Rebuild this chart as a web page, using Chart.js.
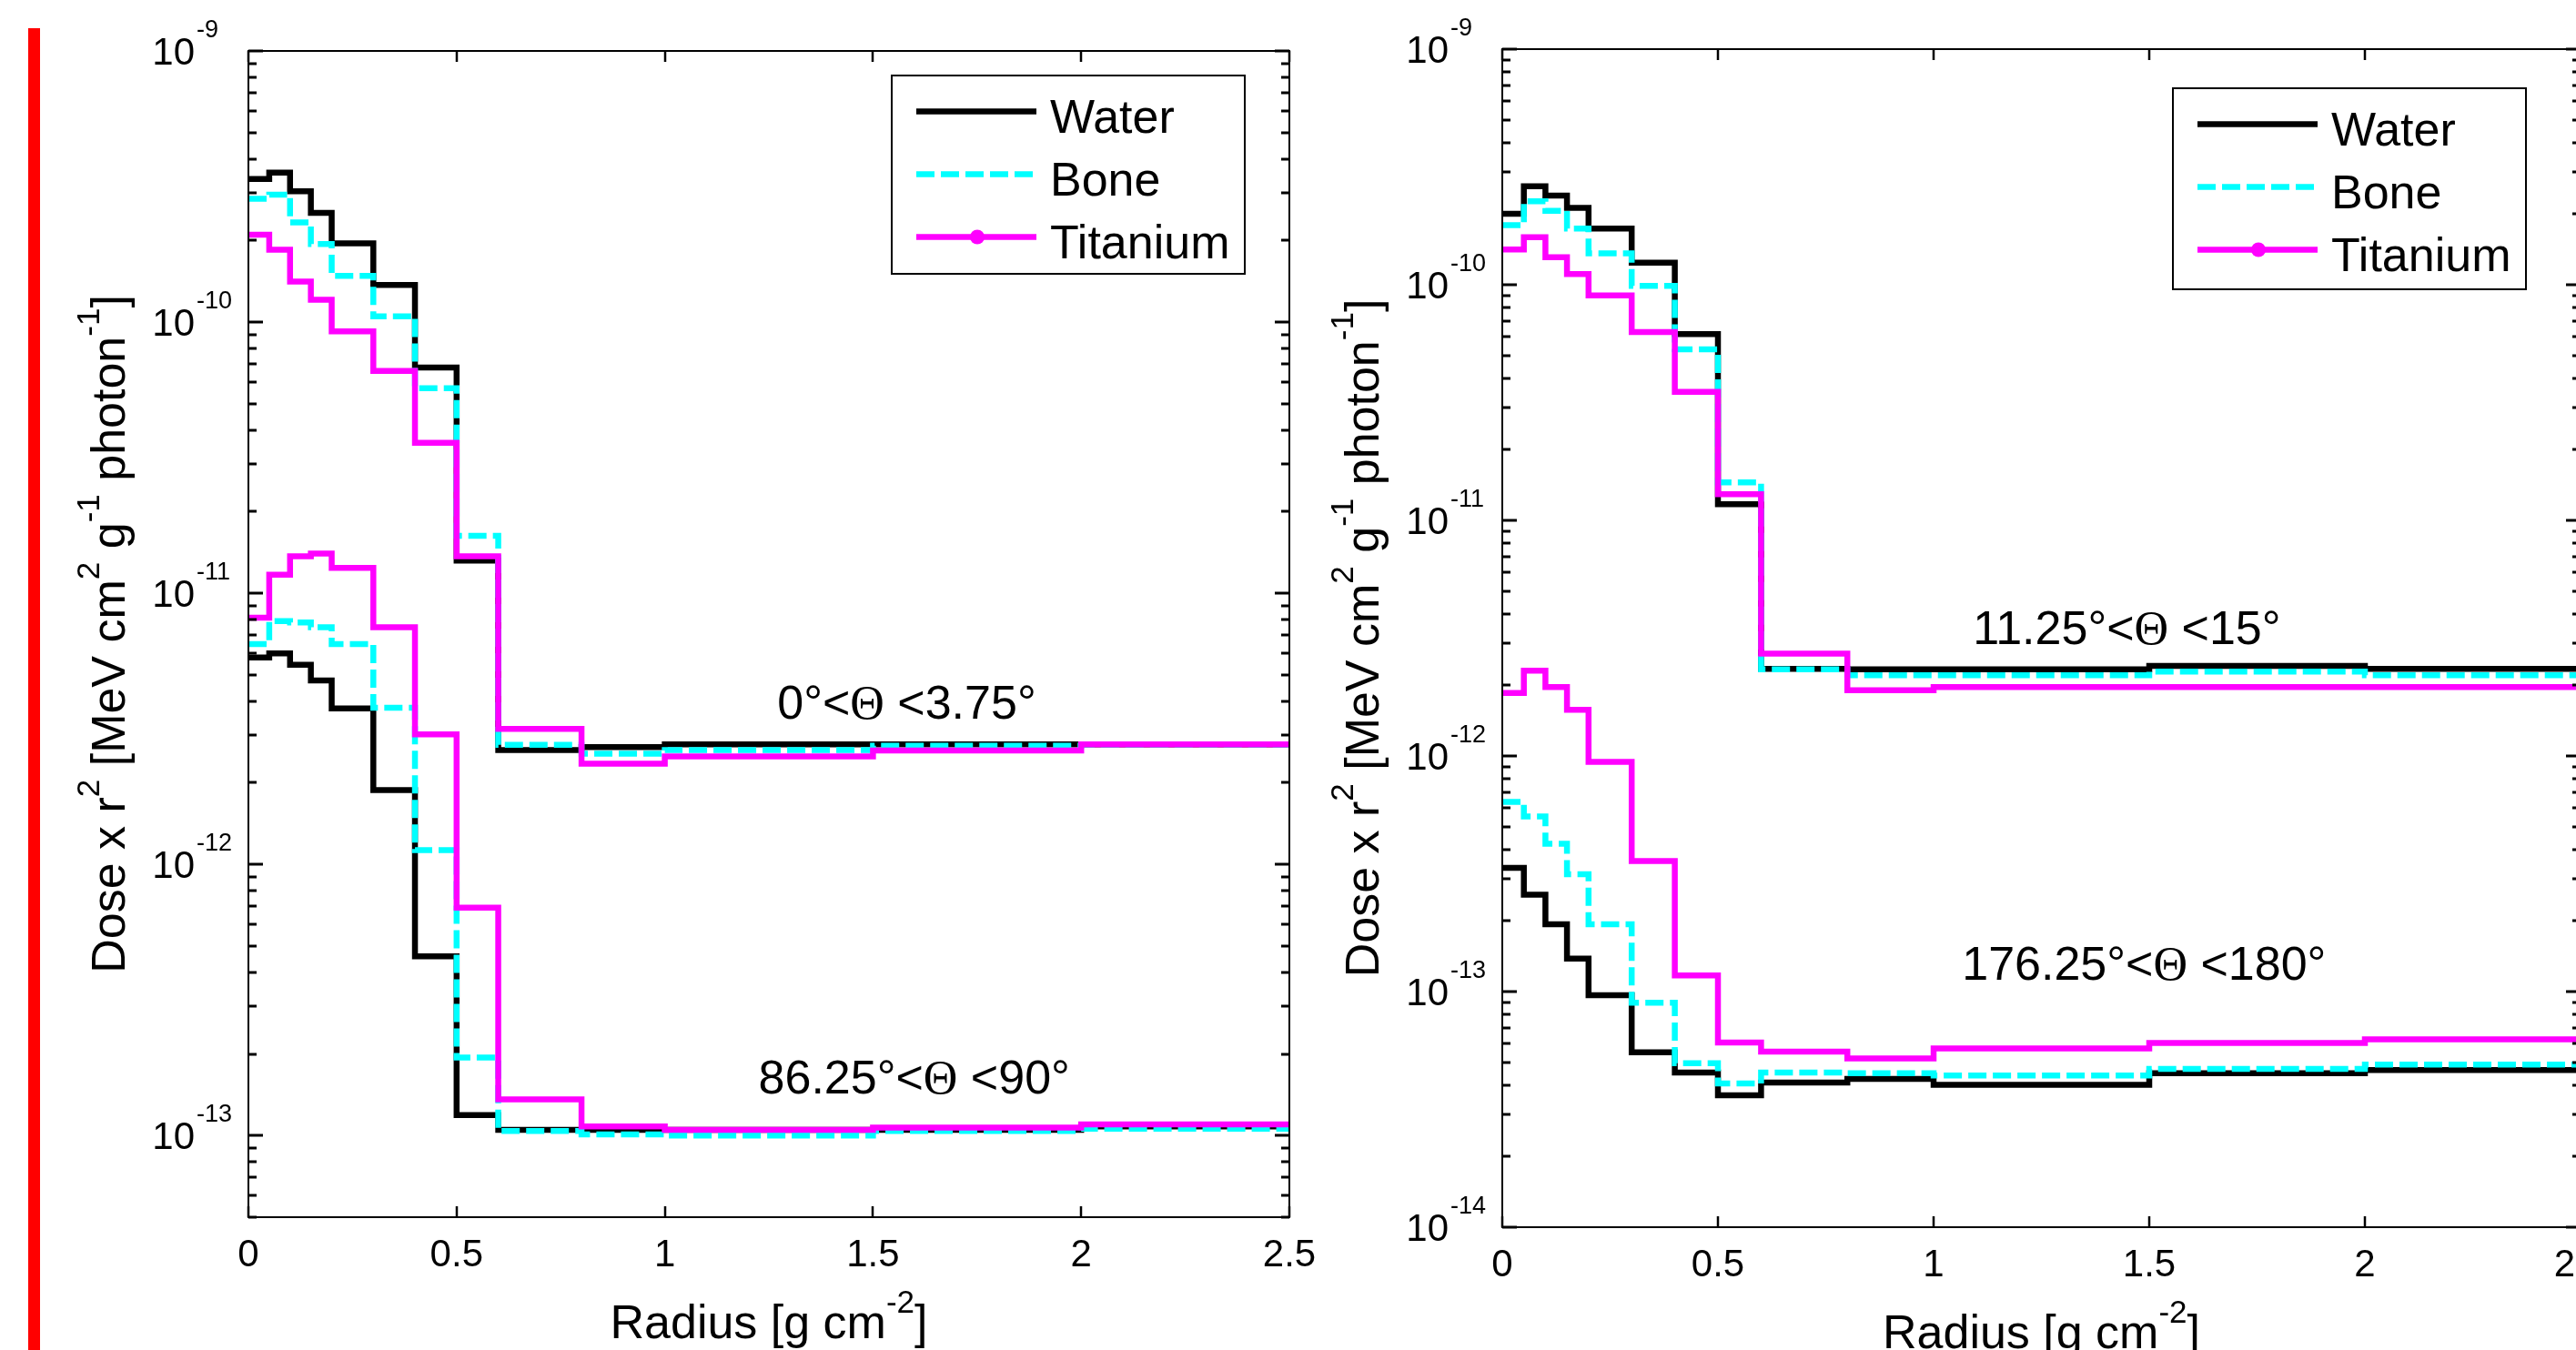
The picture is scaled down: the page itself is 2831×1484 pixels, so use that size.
<!DOCTYPE html>
<html lang="en">
<head>
<meta charset="utf-8">
<title>Dose x r² vs radius</title>
<script src="https://cdn.jsdelivr.net/npm/chart.js@4.4.1/dist/chart.umd.min.js"></script>
<style>
  html, body { margin: 0; width: 2831px; height: 1484px; overflow: hidden; background: #fff; }
  #marker { position: absolute; left: 31px; top: 31px; width: 13px; bottom: 0; background: #ff0000; }
  canvas { position: absolute; top: 0; }
  #forwardPanel { left: 0; }
  #backPanel { left: 1460px; }
</style>
</head>
<body>
<div id="marker"></div>
<canvas id="forwardPanel" width="1460" height="1484"></canvas>
<canvas id="backPanel" width="1460" height="1484"></canvas>
<script>
// ---------------------- data ----------------------
// radial bin edges [g cm^-2]; every series holds one value per bin
const radiusEdges = [0, 0.05, 0.1, 0.15, 0.2, 0.3, 0.4, 0.5, 0.6, 0.8, 1.0, 1.5, 2.0, 2.5];
const xTickValues = [0, 0.5, 1, 1.5, 2, 2.5];
const xTickLabels = ['0', '0.5', '1', '1.5', '2', '2.5'];
const yDecadesLeft = [-9, -10, -11, -12, -13];
const yDecadesRight = [-9, -10, -11, -12, -13, -14];
const materials = ['Water', 'Bone', 'Titanium'];

// 0° < Θ < 3.75°
const water0 = [3.37e-10, 3.56e-10, 3.04e-10, 2.53e-10, 1.95e-10, 1.37e-10, 6.8e-11, 1.32e-11, 2.64e-12, 2.71e-12, 2.77e-12, 2.77e-12, 2.77e-12];
const bone0 = [2.85e-10, 2.95e-10, 2.33e-10, 1.94e-10, 1.48e-10, 1.05e-10, 5.7e-11, 1.63e-11, 2.76e-12, 2.56e-12, 2.64e-12, 2.74e-12, 2.77e-12];
const titanium0 = [2.1e-10, 1.85e-10, 1.41e-10, 1.21e-10, 9.25e-11, 6.6e-11, 3.59e-11, 1.37e-11, 3.16e-12, 2.35e-12, 2.5e-12, 2.63e-12, 2.77e-12];

// 86.25° < Θ < 90°
const water90 = [5.8e-12, 6.0e-12, 5.45e-12, 4.77e-12, 3.76e-12, 1.88e-12, 4.58e-13, 1.19e-13, 1.05e-13, 1.05e-13, 1.05e-13, 1.05e-13, 1.08e-13];
const bone90 = [6.5e-12, 7.9e-12, 7.8e-12, 7.5e-12, 6.5e-12, 3.78e-12, 1.13e-12, 1.94e-13, 1.04e-13, 1.01e-13, 1.0e-13, 1.04e-13, 1.06e-13];
const titanium90 = [8.13e-12, 1.17e-11, 1.37e-11, 1.4e-11, 1.24e-11, 7.5e-12, 3.02e-12, 6.93e-13, 1.36e-13, 1.08e-13, 1.05e-13, 1.07e-13, 1.1e-13];

// 11.25° < Θ < 15°
const water15 = [2.0e-10, 2.62e-10, 2.39e-10, 2.12e-10, 1.73e-10, 1.24e-10, 6.17e-11, 1.17e-11, 2.34e-12, 2.33e-12, 2.33e-12, 2.41e-12, 2.34e-12];
const bone15 = [1.79e-10, 2.26e-10, 2.06e-10, 1.73e-10, 1.36e-10, 9.9e-11, 5.32e-11, 1.45e-11, 2.33e-12, 2.2e-12, 2.2e-12, 2.28e-12, 2.2e-12];
const titanium15 = [1.41e-10, 1.59e-10, 1.31e-10, 1.11e-10, 9.0e-11, 6.3e-11, 3.51e-11, 1.29e-11, 2.72e-12, 1.9e-12, 1.96e-12, 1.96e-12, 1.96e-12];

// 176.25° < Θ < 180°
const water180 = [3.35e-13, 2.58e-13, 1.93e-13, 1.38e-13, 9.65e-14, 5.53e-14, 4.53e-14, 3.63e-14, 4.11e-14, 4.26e-14, 4.02e-14, 4.5e-14, 4.64e-14];
const bone180 = [6.38e-13, 5.54e-13, 4.24e-13, 3.15e-13, 1.93e-13, 8.96e-14, 4.96e-14, 4.07e-14, 4.53e-14, 4.5e-14, 4.4e-14, 4.7e-14, 4.9e-14];
const titanium180 = [1.85e-12, 2.3e-12, 1.96e-12, 1.57e-12, 9.44e-13, 3.58e-13, 1.17e-13, 6.08e-14, 5.56e-14, 5.2e-14, 5.74e-14, 6.05e-14, 6.27e-14];

const leftNotes = ['0°<Θ <3.75°', '86.25°<Θ <90°'];
const rightNotes = ['11.25°<Θ <15°', '176.25°<Θ <180°'];
const yTitle = 'Dose x r^{2} [MeV cm^{2} g^{-1} photon^{-1}]';
const xTitle = 'Radius [g cm^{-2}]';

// ---------------------- styles ----------------------
const SANS = '"Liberation Sans", Arial, Helvetica, sans-serif';
const SERIF = '"Liberation Serif", "Times New Roman", serif';
const TEXT_SIZE = 52;
const TICK_SIZE = 42;

const seriesStyle = {
  Water:    { color: '#000000', dash: [],      order: 3 },
  Bone:     { color: '#00ffff', dash: [20, 7], order: 2 },
  Titanium: { color: '#ff00ff', dash: [],      order: 1 }
};

// one step point per edge, the last bin value repeated on the closing edge
function steps(values) {
  return radiusEdges.map((r, k) => ({ x: r, y: values[Math.min(k, values.length - 1)] }));
}

function buildDatasets(groups) {
  const out = [];
  groups.forEach(group => {
    materials.forEach((name, i) => {
      const s = seriesStyle[name];
      out.push({
        label: name,
        data: steps(group[i]),
        stepped: 'before',
        borderWidth: 6.5,
        borderColor: s.color,
        borderDash: s.dash,
        borderJoinStyle: 'miter',
        order: s.order,
        pointRadius: 0,
        fill: false
      });
    });
  });
  return out;
}

// ---------------------- text helpers ----------------------
// "^{..}" marks a superscript, Θ is set in the serif face
function parseRuns(str) {
  const runs = [];
  const re = /\^\{([^}]*)\}|Θ|[^^Θ]+/g;
  let m;
  while ((m = re.exec(str))) {
    if (m[1] !== undefined) runs.push({ t: m[1], sup: true });
    else if (m[0] === 'Θ') runs.push({ t: 'Θ', serif: true });
    else runs.push({ t: m[0] });
  }
  return runs;
}

function fontFor(run, size) {
  const fs = run.sup ? Math.round(size * 0.68) : size;
  return `${fs}px ${run.serif ? SERIF : SANS}`;
}

function runsWidth(ctx, runs, size) {
  let w = 0;
  runs.forEach(r => { ctx.font = fontFor(r, size); w += ctx.measureText(r.t).width; });
  return w;
}

function drawRuns(ctx, runs, x, y, size) {
  let cx = x;
  runs.forEach(r => {
    ctx.font = fontFor(r, size);
    ctx.fillText(r.t, cx, r.sup ? y - size * 0.54 : y);
    cx += ctx.measureText(r.t).width;
  });
}

// ---------------------- axes box, ticks, legend, notes ----------------------
const matlabAxes = {
  id: 'matlabAxes',
  afterDraw(chart, _args, o) {
    const { ctx, chartArea: a } = chart;
    const xs = chart.scales.x;
    const ys = chart.scales.y;
    ctx.save();
    ctx.strokeStyle = '#000';
    ctx.fillStyle = '#000';

    ctx.lineWidth = 2;
    ctx.strokeRect(a.left, a.top, a.right - a.left, a.bottom - a.top);

    // decade and minor ticks, left and right sides
    ctx.lineWidth = 3;
    const k0 = Math.floor(Math.log10(ys.min));
    const k1 = Math.ceil(Math.log10(ys.max));
    for (let k = k0; k <= k1; k++) {
      for (let m = 1; m <= 9; m++) {
        const v = Number(m + 'e' + k);
        if (v < ys.min * 0.999 || v > ys.max * 1.001) continue;
        const py = Math.round(ys.getPixelForValue(v));
        const len = m === 1 ? 16 : 9;
        ctx.beginPath();
        ctx.moveTo(a.left, py); ctx.lineTo(a.left + len, py);
        ctx.moveTo(a.right, py); ctx.lineTo(a.right - len, py);
        ctx.stroke();
      }
    }

    ctx.lineWidth = 2.5;
    xTickValues.forEach(v => {
      const px = Math.round(xs.getPixelForValue(v));
      ctx.beginPath();
      ctx.moveTo(px, a.bottom); ctx.lineTo(px, a.bottom - 12);
      ctx.moveTo(px, a.top); ctx.lineTo(px, a.top + 12);
      ctx.stroke();
    });

    // tick labels
    ctx.textBaseline = 'alphabetic';
    ctx.textAlign = 'center';
    ctx.font = `${TICK_SIZE}px ${SANS}`;
    xTickValues.forEach((v, i) => {
      ctx.fillText(xTickLabels[i], xs.getPixelForValue(v), a.bottom + 54);
    });
    o.decades.forEach(e => {
      const py = ys.getPixelForValue(Number('1e' + e));
      ctx.font = `${TICK_SIZE}px ${SANS}`;
      ctx.textAlign = 'right';
      ctx.fillText('10', a.left - 59, py + 15);
      ctx.font = `27px ${SANS}`;
      ctx.textAlign = 'left';
      ctx.fillText(String(e), a.left - 57, py - 15);
    });

    // axis titles
    ctx.textAlign = 'left';
    const xr = parseRuns(xTitle);
    drawRuns(ctx, xr, (a.left + a.right) / 2 - runsWidth(ctx, xr, TEXT_SIZE) / 2, a.bottom + 133, TEXT_SIZE);
    const yr = parseRuns(yTitle);
    ctx.save();
    ctx.translate(a.left - 136, (a.top + a.bottom) / 2);
    ctx.rotate(-Math.PI / 2);
    drawRuns(ctx, yr, -runsWidth(ctx, yr, TEXT_SIZE) / 2, 0, TEXT_SIZE);
    ctx.restore();

    // angular range notes, centred on a data position
    o.notes.forEach(n => {
      const runs = parseRuns(n.text);
      const w = runsWidth(ctx, runs, TEXT_SIZE);
      drawRuns(ctx, runs, xs.getPixelForValue(n.r) - w / 2, ys.getPixelForValue(n.v), TEXT_SIZE);
    });

    // legend box
    const L = o.legend;
    const bx = a.right - L.right - L.width;
    const by = a.top + L.top;
    ctx.fillStyle = '#fff';
    ctx.fillRect(bx, by, L.width, L.height);
    ctx.strokeStyle = '#000';
    ctx.lineWidth = 2;
    ctx.strokeRect(bx, by, L.width, L.height);
    materials.forEach((name, i) => {
      const ds = chart.data.datasets.find(d => d.label === name);
      const ly = by + 39.5 + i * 69;
      ctx.strokeStyle = ds.borderColor;
      ctx.lineWidth = ds.borderWidth;
      ctx.setLineDash(ds.borderDash);
      ctx.beginPath();
      ctx.moveTo(bx + 27, ly);
      ctx.lineTo(bx + 159, ly);
      ctx.stroke();
      ctx.setLineDash([]);
      if (name === 'Titanium') {
        ctx.fillStyle = ds.borderColor;
        ctx.beginPath();
        ctx.arc(bx + 94, ly, 8, 0, Math.PI * 2);
        ctx.fill();
      }
      ctx.fillStyle = '#000';
      ctx.font = `${TEXT_SIZE}px ${SANS}`;
      ctx.fillText(name, bx + 174, ly + 23.5);
    });

    ctx.restore();
  }
};

function makePanel(id, groups, cfg) {
  return new Chart(document.getElementById(id), {
    type: 'line',
    data: { datasets: buildDatasets(groups) },
    options: {
      responsive: false,
      animation: false,
      devicePixelRatio: 1,
      layout: { padding: cfg.padding },
      scales: {
        x: {
          type: 'linear', min: 0, max: 2.5,
          grid: { display: false }, border: { display: false }, ticks: { display: false },
          afterFit: s => { s.height = cfg.xAxisHeight; }
        },
        y: {
          type: 'logarithmic', min: cfg.yMin, max: 1e-9,
          grid: { display: false }, border: { display: false }, ticks: { display: false },
          afterFit: s => { s.width = cfg.yAxisWidth; }
        }
      },
      plugins: {
        legend: { display: false },
        tooltip: { enabled: false },
        matlabAxes: cfg.axes
      }
    },
    plugins: [matlabAxes]
  });
}

// ---------------------- panels ----------------------
makePanel('forwardPanel', [[water0, bone0, titanium0], [water90, bone90, titanium90]], {
  padding: { left: 0, top: 56, right: 43, bottom: 0 },
  yAxisWidth: 273,
  xAxisHeight: 146,
  yMin: 5e-14,
  axes: {
    decades: yDecadesLeft,
    legend: { right: 49, top: 27, width: 388, height: 218 },
    notes: [
      { text: leftNotes[0], r: 1.581, v: 3.44e-12 },
      { text: leftNotes[1], r: 1.599, v: 1.43e-13 }
    ]
  }
});

makePanel('backPanel', [[water15, bone15, titanium15], [water180, bone180, titanium180]], {
  padding: { left: 0, top: 54, right: 84, bottom: 0 },
  yAxisWidth: 191,
  xAxisHeight: 135,
  yMin: 1e-14,
  axes: {
    decades: yDecadesRight,
    legend: { right: 60, top: 43, width: 388, height: 221 },
    notes: [
      { text: rightNotes[0], r: 1.448, v: 2.98e-12 },
      { text: rightNotes[1], r: 1.488, v: 1.12e-13 }
    ]
  }
});
</script>
</body>
</html>
